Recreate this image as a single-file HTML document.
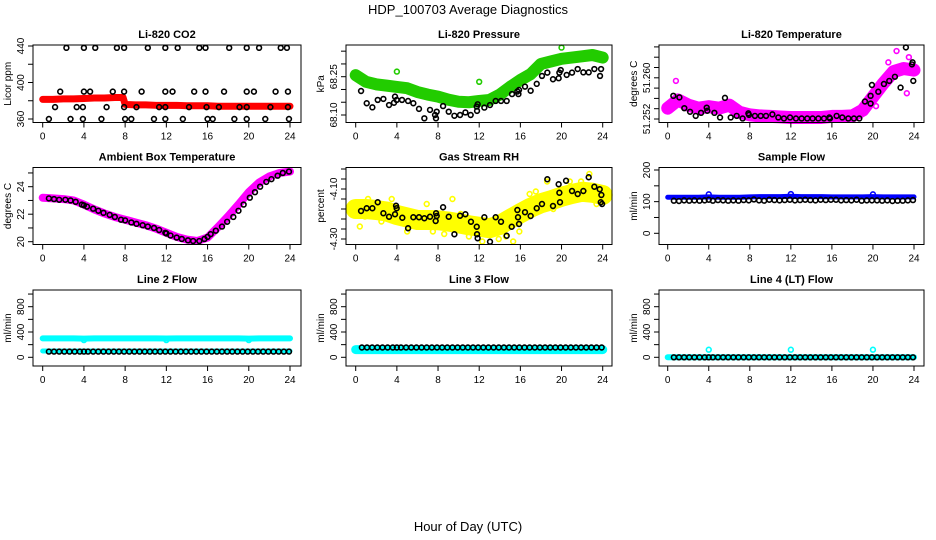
<!DOCTYPE html>
<html><head><meta charset="utf-8"><style>
html,body{margin:0;padding:0;background:#fff;}
svg{display:block;font-family:"Liberation Sans",Arial,sans-serif;}
</style></head><body>
<svg id="chart" width="936" height="540" viewBox="0 0 936 540" xmlns="http://www.w3.org/2000/svg">
<rect x="0" y="0" width="936" height="540" fill="#fff"/>
<text x="468" y="14" text-anchor="middle" font-size="13">HDP_100703  Average Diagnostics</text>
<text x="468" y="531" text-anchor="middle" font-size="13">Hour of Day (UTC)</text>
</svg>
<script>
// ---------- data ----------
const xTickHours = [0,4,8,12,16,20,24];
const co2BandHours = [0,1,2,3,4,5,6,7,7.8,8,9,10,11,12,13,14,15,16,17,18,19,20,21,22,23,24];
const co2BandVals = [381.5,381.5,382,382,382.5,383,383,383.5,383.5,376,375.5,375.5,375,375,375,374.5,374.5,374.5,374,374,374,374,374,374,374,374];
const co2Hours = [2.3,4,5.1,7.2,7.9,10.2,11.9,13.1,15.2,15.8,18.1,19.8,21,23.1,23.7,1.7,4,4.6,6.8,7.9,9.6,11.9,12.6,14.7,15.8,17.6,19.8,20.5,22.6,23.8,1.2,3.3,3.9,6.2,7.9,9.1,11.3,11.9,14.2,15.9,17.1,19.1,19.8,22.1,23.8,0.6,2.7,3.9,5.7,8,8.6,10.8,11.9,13.6,16,16.5,18.6,19.8,21.6,23.9];
const co2Vals = [438,438,438,438,438,438,438,438,438,438,438,438,438,438,438,390,390,390,390,390,390,390,390,390,390,390,390,390,390,390,373,373,373,373,373,373,373,373,373,373,373,373,373,373,373,360,360,360,360,360,360,360,360,360,360,360,360,360,360,360];
const co2YTicks = [360,380,400,420,440];
const co2YLabels = [360,400,440];

const presBandHours = [0,1,2,3,4,5,6,7,8,9,10,11,12,13,14,15,16,17,18,19,20,21,22,23,24];
const presBandVals = [68.256,68.23,68.22,68.215,68.21,68.205,68.19,68.18,68.172,68.16,68.152,68.15,68.155,68.159,68.18,68.21,68.237,68.26,68.30,68.31,68.32,68.325,68.33,68.335,68.325];
const presOutHours = [4,12,20];
const presOutVals = [68.27,68.23,68.364];
const presHours = [0.52,1.07,1.62,2.14,2.69,3.24,3.72,3.82,3.98,4.5,5.09,5.6,6.15,6.67,7.22,7.71,7.8,7.87,8.49,9.04,9.59,10.14,10.66,11.17,11.76,11.79,11.85,12.5,13.05,13.6,14.12,14.67,15.19,15.71,15.81,15.87,16.45,17.0,17.59,18.1,18.62,19.17,19.72,19.79,19.92,20.5,21.02,21.57,22.12,22.64,23.19,23.74,23.84];
const presVals = [68.194,68.146,68.130,68.159,68.163,68.139,68.148,68.172,68.159,68.159,68.155,68.146,68.124,68.087,68.120,68.100,68.087,68.113,68.135,68.113,68.097,68.100,68.110,68.100,68.133,68.116,68.142,68.129,68.139,68.155,68.155,68.155,68.182,68.192,68.182,68.198,68.211,68.195,68.222,68.253,68.266,68.240,68.244,68.266,68.276,68.257,68.266,68.280,68.267,68.267,68.280,68.253,68.280];
const presYTicks = [68.10,68.15,68.20,68.25,68.30,68.35];
const presYLabels = ["68.10","68.25"];

const tempBandHours = [0,1,2,3,4,5,6,7,8,9,10,11,12,13,14,15,16,17,18,19,20,21,22,23,24];
const tempBandVals = [51.2541,51.2557,51.2547,51.2541,51.2544,51.2541,51.2547,51.2533,51.2528,51.2526,51.2525,51.2524,51.2523,51.2523,51.2523,51.2523,51.2525,51.2525,51.2526,51.2537,51.2563,51.2589,51.2612,51.2618,51.2615];
const tempOutHours = [0.8,22.3,23.3,23.5,21.5,20.3];
const tempOutVals = [51.2594,51.2652,51.2570,51.2640,51.2630,51.2545];
const tempHours = [0.55,1.14,1.62,2.18,2.73,3.25,3.8,3.86,4.55,5.1,5.58,6.14,6.72,7.3,7.86,7.92,8.5,9.06,9.58,10.2,10.78,11.33,11.92,12.5,13.05,13.6,14.12,14.68,15.23,15.75,15.81,16.46,17.01,17.6,18.15,18.67,19.22,19.77,19.77,19.9,20.52,21.07,21.59,22.14,22.69,23.21,23.8,23.86,23.93];
const tempVals = [51.2565,51.2562,51.2541,51.2534,51.2526,51.2532,51.2542,51.2536,51.2532,51.2523,51.2561,51.2523,51.2526,51.2521,51.2531,51.2528,51.2526,51.2526,51.2526,51.2529,51.2523,51.2521,51.2523,51.2521,51.2521,51.2521,51.2521,51.2521,51.2521,51.2523,51.2521,51.2526,51.2523,51.2521,51.2521,51.2521,51.2554,51.2550,51.2565,51.2586,51.2573,51.2588,51.2594,51.2602,51.2581,51.2659,51.2626,51.2630,51.2594];
const tempYTicks = [51.252,51.254,51.256,51.258,51.260,51.262,51.264,51.266];
const tempYLabels = ["51.252","51.260"];

const ambBandHours = [0,1,2,3,4,5,6,7,8,9,10,11,12,13,14,15,16,17,18,19,20,21,22,23,24];
const ambBandVals = [23.2,23.15,23.1,23.0,22.7,22.35,22.05,21.8,21.6,21.4,21.2,20.95,20.65,20.35,20.15,20.05,20.3,21.05,21.85,22.7,23.6,24.3,24.75,25.0,25.1];
const ambHours = [0.6,1.1,1.6,2.2,2.7,3.2,3.8,4.0,4.3,4.9,5.4,5.9,6.5,7.0,7.6,8.0,8.6,9.1,9.7,10.2,10.8,11.3,11.9,12.0,12.4,13.0,13.5,14.1,14.6,15.2,15.7,16.0,16.3,16.8,17.4,17.9,18.5,19.0,19.5,20.1,20.6,21.1,21.7,22.2,22.8,23.3,23.9];
const ambVals = [23.15,23.1,23.05,23.05,23.0,22.9,22.7,22.65,22.55,22.4,22.25,22.1,21.95,21.8,21.6,21.55,21.4,21.3,21.2,21.1,21.0,20.85,20.65,20.6,20.45,20.3,20.2,20.1,20.05,20.05,20.2,20.35,20.55,20.8,21.1,21.45,21.8,22.25,22.7,23.2,23.6,24.0,24.35,24.55,24.8,25.0,25.1];
const ambYTicks = [20,21,22,23,24,25];
const ambYLabels = [20,22,24];

const rhBandHours = [0,1,2,3,4,5,6,7,8,9,10,11,12,13,14,15,16,17,18,19,20,21,22,23,24];
const rhBandVals = [-4.18,-4.18,-4.184,-4.19,-4.204,-4.214,-4.224,-4.224,-4.225,-4.23,-4.237,-4.245,-4.251,-4.257,-4.244,-4.22,-4.197,-4.175,-4.157,-4.145,-4.131,-4.12,-4.111,-4.115,-4.124];
const rhOutHours = [0.4,1.2,2.5,3.5,5.0,6.9,8.6,9.4,11.0,12.3,13.9,15.3,15.9,16.9,18.6,19.2,20.8,21.9,22.7,23.4,0.9,4.6,7.5,10.2,14.6,17.5,19.9,22.3];
const rhOutVals = [-4.25,-4.14,-4.23,-4.14,-4.27,-4.16,-4.28,-4.14,-4.29,-4.31,-4.30,-4.31,-4.27,-4.12,-4.07,-4.18,-4.07,-4.07,-4.04,-4.16,-4.21,-4.19,-4.27,-4.20,-4.29,-4.11,-4.15,-4.09];
const rhHours = [0.52,1.07,1.62,2.14,2.69,3.24,3.82,3.92,3.98,4.53,5.09,5.6,6.15,6.67,7.22,7.77,7.81,7.87,8.49,9.04,9.59,10.14,10.66,11.2,11.76,11.79,11.85,12.5,13.05,13.6,14.12,14.67,15.16,15.71,15.77,15.87,16.45,17.0,17.59,18.1,18.62,19.17,19.72,19.79,19.85,20.44,21.02,21.57,22.12,22.64,23.19,23.71,23.81,23.87,23.94];
const rhVals = [-4.188,-4.177,-4.177,-4.153,-4.197,-4.211,-4.201,-4.167,-4.177,-4.215,-4.257,-4.213,-4.213,-4.217,-4.211,-4.228,-4.197,-4.208,-4.173,-4.211,-4.281,-4.207,-4.201,-4.231,-4.251,-4.281,-4.297,-4.213,-4.311,-4.213,-4.231,-4.287,-4.251,-4.184,-4.213,-4.240,-4.193,-4.208,-4.177,-4.160,-4.061,-4.168,-4.081,-4.115,-4.153,-4.067,-4.108,-4.120,-4.108,-4.053,-4.091,-4.101,-4.153,-4.124,-4.160];
const rhYTicks = [-4.30,-4.26,-4.22,-4.18,-4.14,-4.10,-4.06,-4.02];
const rhYLabels = ["-4.30","-4.10"];

const flowBandHours = [0,1,2,3,4,5,6,7,8,9,10,11,12,13,14,15,16,17,18,19,20,21,22,23,24];
const sampleBandVals = [114,114,114,114,115,114,114,114,115,116,116,116,117,116,116,116,115,115,115,115,116,115,115,115,115];
const sampleOutHours = [4,12,20];
const sampleOutVals = [123,124,123];
const flowHours = [0.6,1.1,1.6,2.1,2.6,3.1,3.6,4.0,4.4,4.9,5.4,5.9,6.4,6.9,7.4,7.9,8.4,8.9,9.4,9.9,10.4,10.9,11.4,11.9,12.4,12.9,13.4,13.9,14.4,14.9,15.4,15.9,16.4,16.9,17.4,17.9,18.4,18.9,19.4,19.9,20.4,20.9,21.4,21.9,22.4,22.9,23.4,23.9];
const sampleVals = [103,102,104,103,104,103,104,106,103,105,104,103,104,103,105,104,107,104,103,106,105,104,105,106,104,105,106,105,104,106,105,106,106,104,105,104,106,103,104,104,104,103,104,102,103,103,104,105];
const sampleYTicks = [0,50,100,150,200];
const sampleYLabels = [0,100,200];

const line2TopVals = [300,300,300,300,295,300,300,300,300,300,300,300,298,300,300,300,300,300,300,300,295,300,300,300,300];
const line2TopOutHours = [4,12,20];
const line2TopOutVals = [272,272,272];
const line2LowVals = [100,100,100,100,100,100,100,100,100,100,100,100,100,100,100,100,100,100,100,100,100,100,100,100,100];
const line2Vals = [90,90,90,90,90,90,90,90,90,90,90,90,90,90,90,90,90,90,90,90,90,90,90,90,90,90,90,90,90,90,90,90,90,90,90,90,90,90,90,90,90,90,90,90,90,90,90,90];
const line3BandVals = [122,122,122,122,122,122,122,122,122,122,122,122,122,122,122,122,122,122,122,122,122,122,122,122,122];
const line3Vals = [155,155,155,155,155,155,155,155,155,155,155,155,155,155,155,155,155,155,155,155,155,155,155,155,155,155,155,155,155,155,155,155,155,155,155,155,155,155,155,155,155,155,155,155,155,155,155,155];
const line4BandVals = [0,0,0,0,0,0,0,0,0,0,0,0,0,0,0,0,0,0,0,0,0,0,0,0,0];
const line4OutHours = [4,12,20];
const line4OutVals = [120,120,120];
const line4Vals = [0,0,0,0,0,0,0,0,0,0,0,0,0,0,0,0,0,0,0,0,0,0,0,0,0,0,0,0,0,0,0,0,0,0,0,0,0,0,0,0,0,0,0,0,0,0,0,0];
const flowYTicks = [0,200,400,600,800,1000];
const flowYLabels = [0,400,800];

// ---------- layout ----------
const NS = "http://www.w3.org/2000/svg";
const svg = document.getElementById('chart');
const cols = [{bx0:33,bx1:301,h0:42.7,h24:290},{bx0:346,bx1:612,h0:355.7,h24:602.7},{bx0:659,bx1:924,h0:667.7,h24:914}];
const rows = [{by0:45,by1:122.5},{by0:167.5,by1:244.5},{by0:290,by1:366}];

function mk(tag, parent){ const e=document.createElementNS(NS,tag); parent.appendChild(e); return e; }

function makePanel(name, title, ylab, col, row, yv1, yp1, yv2, yp2, yTicks, yLabels){
  const c=cols[col], r=rows[row];
  const g=mk('g',svg);
  
  
  const xs=h=>c.h0+h*(c.h24-c.h0)/24;
  const ys=v=>yp1+(v-yv1)*(yp2-yp1)/(yv2-yv1);
  const plot=mk('g',g);
  
  
  const box=mk('rect',g);
  box.setAttribute('x',c.bx0); box.setAttribute('y',r.by0);
  box.setAttribute('width',c.bx1-c.bx0); box.setAttribute('height',r.by1-r.by0);
  box.setAttribute('fill','none'); box.setAttribute('stroke','#000'); box.setAttribute('stroke-width','1');
  
  
  const t=mk('text',g);
  t.setAttribute('x',(c.bx0+c.bx1)/2); t.setAttribute('y',r.by0-7);
  t.setAttribute('text-anchor','middle'); t.setAttribute('font-size','11'); t.setAttribute('font-weight','bold');
  t.textContent=title;
  
  
  // x axis
  xTickHours.forEach(h=>{
    const l=mk('line',g);
    l.setAttribute('x1',xs(h)); l.setAttribute('x2',xs(h)); l.setAttribute('y1',r.by1); l.setAttribute('y2',r.by1+5);
    l.setAttribute('stroke','#000');
    
    
    const tx=mk('text',g);
    tx.setAttribute('x',xs(h)); tx.setAttribute('y',r.by1+17); tx.setAttribute('text-anchor','middle'); tx.setAttribute('font-size','10');
    tx.textContent=h;
    
    
  });
  yTicks.forEach(v=>{
    const l=mk('line',g);
    l.setAttribute('x1',c.bx0-5); l.setAttribute('x2',c.bx0); l.setAttribute('y1',ys(v)); l.setAttribute('y2',ys(v));
    l.setAttribute('stroke','#000');
    
    
  });
  yLabels.forEach(v=>{
    const y=ys(parseFloat(v)), x=c.bx0-9;
    const tx=mk('text',g);
    tx.setAttribute('transform','translate('+x+','+y+') rotate(-90)');
    tx.setAttribute('text-anchor','middle'); tx.setAttribute('font-size','10');
    tx.textContent=v;
    
    
  });
  const yt=mk('text',g);
  const ymid=(r.by0+r.by1)/2;
  yt.setAttribute('transform','translate('+(c.bx0-22)+','+ymid+') rotate(-90)');
  yt.setAttribute('text-anchor','middle'); yt.setAttribute('font-size','10');
  yt.textContent=ylab;
  
  
  return {plot,xs,ys,name};
}

function band(p, hours, vals, color, width, label){
  const pl=mk('polyline',p.plot);
  pl.setAttribute('points', hours.map((h,i)=>p.xs(h)+','+p.ys(vals[i])).join(' '));
  pl.setAttribute('fill','none'); pl.setAttribute('stroke',color); pl.setAttribute('stroke-width',width);
  pl.setAttribute('stroke-linejoin','round'); pl.setAttribute('stroke-linecap','round');
  
  
}
function points(p, hours, vals, color, label, sw){
  hours.forEach((h,i)=>{
    const ci=mk('circle',p.plot);
    ci.setAttribute('cx',p.xs(h)); ci.setAttribute('cy',p.ys(vals[i])); ci.setAttribute('r','2.4');
    ci.setAttribute('fill','none'); ci.setAttribute('stroke',color); ci.setAttribute('stroke-width',sw||1.6);
    
    
  });
}

// CO2
let p=makePanel('co2','Li-820 CO2','Licor ppm',0,0,360,119,440,46,co2YTicks,co2YLabels);
band(p,co2BandHours,co2BandVals,'#ff0000',7,'red-band');
points(p,co2Hours,co2Vals,'#000','point');
// Pressure
p=makePanel('pressure','Li-820 Pressure','kPa',1,0,68.10,115,68.25,76.7,presYTicks,presYLabels);
band(p,presBandHours,presBandVals,'#22cc00',12,'green-band');
points(p,presOutHours,presOutVals,'#22cc00','green-point');
points(p,presHours,presVals,'#000','point');
// Temperature
p=makePanel('licor-temp','Li-820 Temperature','degrees C',2,0,51.252,119,51.260,77.8,tempYTicks,tempYLabels);
band(p,tempBandHours,tempBandVals,'#ff00ff',13,'magenta-band');
points(p,tempOutHours,tempOutVals,'#ff00ff','magenta-point');
points(p,tempHours,tempVals,'#000','point');
// Ambient
p=makePanel('ambient','Ambient Box Temperature','degrees C',0,1,20,241.7,24,186.7,ambYTicks,ambYLabels);
band(p,ambBandHours,ambBandVals,'#ff00ff',8,'magenta-band');
points(p,ambHours,ambVals,'#000','point');
// RH
p=makePanel('rh','Gas Stream RH','percent',1,1,-4.30,239,-4.10,189,rhYTicks,rhYLabels);
band(p,rhBandHours,rhBandVals,'#ffff00',20,'yellow-band');
points(p,rhOutHours,rhOutVals,'#ffff00','yellow-point');
points(p,rhHours,rhVals,'#000','point');
// Sample flow
p=makePanel('sample-flow','Sample Flow','ml/min',2,1,0,233.3,200,170,sampleYTicks,sampleYLabels);
band(p,flowBandHours,sampleBandVals,'#0000ff',5,'blue-band');
points(p,sampleOutHours,sampleOutVals,'#0000ff','blue-point');
points(p,flowHours,sampleVals,'#000','point');
// Line 2
p=makePanel('line2','Line 2 Flow','ml/min',0,2,0,357.3,800,306.7,flowYTicks,flowYLabels);
band(p,flowBandHours,line2TopVals,'#00ffff',6,'cyan-top-band');
points(p,line2TopOutHours,line2TopOutVals,'#00ffff','cyan-point');
band(p,flowBandHours,line2LowVals,'#00ffff',5,'cyan-low-band');
points(p,flowHours,line2Vals,'#000','point');
// Line 3
p=makePanel('line3','Line 3 Flow','ml/min',1,2,0,357.3,800,306.7,flowYTicks,flowYLabels);
band(p,flowBandHours,line3BandVals,'#00ffff',9,'cyan-band');
points(p,flowHours,line3Vals,'#000','point');
// Line 4
p=makePanel('line4','Line 4 (LT) Flow','ml/min',2,2,0,357.3,800,306.7,flowYTicks,flowYLabels);
band(p,flowBandHours,line4BandVals,'#00ffff',6,'cyan-band');
points(p,line4OutHours,line4OutVals,'#00ffff','cyan-point');
points(p,flowHours,line4Vals,'#000','point');
</script>
</body></html>
